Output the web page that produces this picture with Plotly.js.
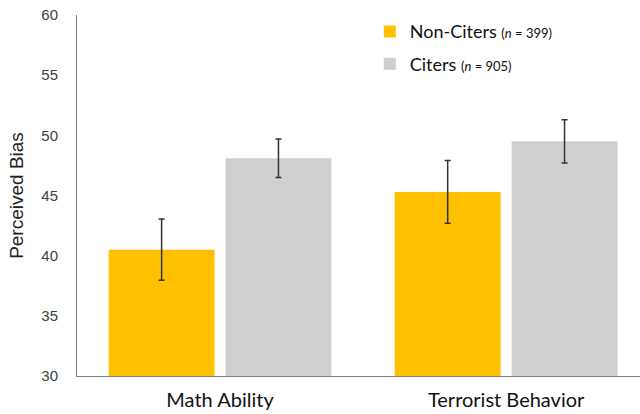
<!DOCTYPE html>
<html>
<head>
<meta charset="utf-8">
<script src="https://cdn.plot.ly/plotly-3.0.1.min.js"></script>
<style>
  html, body { margin: 0; padding: 0; background: #fff; }
  #chart { width: 640px; height: 414px; }
</style>
</head>
<body>
<div id="chart"></div>
<script>
// Perceived bias by domain, split by citation group (mean ± error)
const categories = ['Math Ability', 'Terrorist Behavior'];
const nonCitersMean = [40.5, 45.3];
const nonCitersErr = [2.55, 2.6];
const citersMean = [48.1, 49.5];
const citersErr = [1.6, 1.8];
const seriesNames = [
  'Non-Citers <span style="font-size:13px">(<i>n</i> = 399)</span>',
  'Citers <span style="font-size:13px">(<i>n</i> = 905)</span>'
];
const yTicks = [30, 35, 40, 45, 50, 55, 60];

const errStyle = { type: 'data', visible: true, thickness: 1.5, width: 3, color: '#333333' };

const traces = [
  {
    type: 'bar', x: categories, y: nonCitersMean, name: seriesNames[0],
    marker: { color: '#FFC000' },
    error_y: Object.assign({ array: nonCitersErr }, errStyle),
    legendgroup: 'a'
  },
  {
    type: 'bar', x: categories, y: citersMean, name: seriesNames[1],
    marker: { color: '#D0CECE' },
    error_y: Object.assign({ array: citersErr }, errStyle),
    legendgroup: 'b'
  }
];

const layout = {
  width: 640, height: 414,
  margin: { l: 77, r: 0, t: 15, b: 38 },
  paper_bgcolor: '#ffffff', plot_bgcolor: '#ffffff',
  barmode: 'group', bargap: 0.183, bargroupgap: 0.094,
  showlegend: true,
  legend: {
    x: 0.52, y: 1.005, xanchor: 'left', yanchor: 'top',
    traceorder: 'grouped', tracegroupgap: 6,
    font: { family: 'Lato, sans-serif', size: 18, color: '#111111' },
    bgcolor: 'rgba(0,0,0,0)'
  },
  xaxis: {
    range: [-0.5, 1.468], showgrid: false, zeroline: false,
    showline: true, linecolor: '#7f7f7f', linewidth: 1,
    ticks: '', ticklabelstandoff: 6,
    tickfont: { family: 'Lato, sans-serif', size: 20, color: '#111111' }
  },
  yaxis: {
    range: [30, 60], tickvals: yTicks, showgrid: false, zeroline: false,
    showline: true, linecolor: '#7f7f7f', linewidth: 1, ticks: '',
    ticklabelstandoff: 15,
    tickfont: { family: 'Liberation Sans, Arial, sans-serif', size: 15, color: '#404040' },
    title: { text: 'Perceived Bias', standoff: 12,
      font: { family: 'Liberation Sans, Arial, sans-serif', size: 19, color: '#222222' } }
  }
};

Plotly.newPlot('chart', traces, layout, { displayModeBar: false, staticPlot: true });
</script>
</body>
</html>
